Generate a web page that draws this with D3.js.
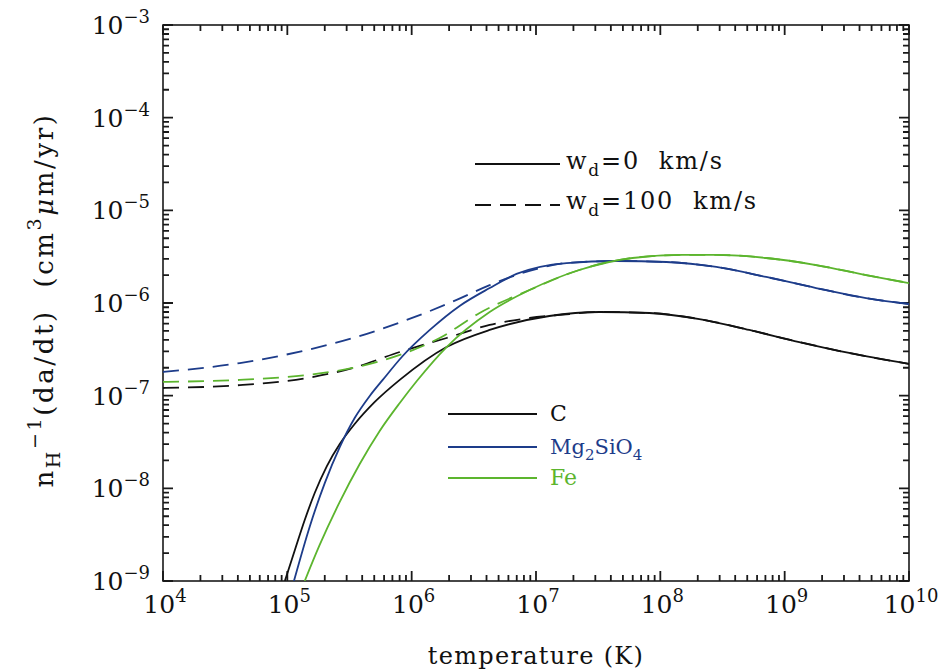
<!DOCTYPE html>
<html><head><meta charset="utf-8">
<script src="https://cdn.jsdelivr.net/npm/d3@7"></script>
<style>
body{margin:0;background:#fff}
svg{display:block}
text{font-family:"DejaVu Serif",serif;fill:#111;white-space:pre}
</style>
</head><body>
<svg id="chart" width="939" height="671"></svg>
<script>
// ---- data ----
const xTickExps = [4,5,6,7,8,9,10];
const yTickExps = [-9,-8,-7,-6,-5,-4,-3];

// C, w_d = 0 km/s
const cSolidT = [9.55e4,1.15e5,1.38e5,1.66e5,2.08e5,2.64e5,3.48e5,5.05e5,8.02e5,1.91e6,4.24e6,1.28e7,3.24e7,8.17e7,2.06e8,5.19e8,1.31e9,3.30e9,1e10];
const cSolidR = [1.0e-9,2.16e-9,4.55e-9,8.9e-9,1.74e-8,3.01e-8,4.94e-8,8.55e-8,1.48e-7,3.35e-7,5.12e-7,7.24e-7,8.0e-7,7.8e-7,6.71e-7,5.12e-7,3.79e-7,2.89e-7,2.2e-7];
// Mg2SiO4, w_d = 0 km/s
const mSolidT = [1.13e5,1.52e5,2.0e5,2.64e5,3.48e5,4.6e5,5.85e5,8.47e5,1.40e6,2.43e6,4.24e6,6.97e6,1.76e7,4.44e7,1.12e8,2.82e8,7.10e8,1.79e9,4.52e9,1e10];
const mSolidR = [1.0e-9,3.93e-9,1.14e-8,2.79e-8,5.74e-8,9.93e-8,1.48e-7,2.68e-7,5.12e-7,9.29e-7,1.45e-6,2.06e-6,2.70e-6,2.84e-6,2.77e-6,2.45e-6,1.91e-6,1.45e-6,1.13e-6,9.75e-7];
// Fe, w_d = 0 km/s
const fSolidT = [1.38e5,1.82e5,2.64e5,3.82e5,5.53e5,8.02e5,1.10e6,1.91e6,4.24e6,8.87e6,2.23e7,5.96e7,1.50e8,2.82e8,7.10e8,1.79e9,4.52e9,1e10];
const fSolidR = [1.0e-9,2.45e-9,7.13e-9,1.83e-8,4.16e-8,8.34e-8,1.44e-7,3.35e-7,8.0e-7,1.38e-6,2.27e-6,3.06e-6,3.30e-6,3.30e-6,3.06e-6,2.57e-6,2.0e-6,1.64e-6];
// C, w_d = 100 km/s
const cDashT = [1e4,4.15e4,1.44e5,3.36e5,8.02e5,1.91e6,4.24e6,8.87e6,1.55e7,3.24e7,8.17e7,2.06e8,5.19e8,1.31e9,3.30e9,1e10];
const cDashR = [1.21e-7,1.30e-7,1.55e-7,1.99e-7,2.96e-7,4.19e-7,5.79e-7,6.89e-7,7.43e-7,8.0e-7,7.8e-7,6.71e-7,5.12e-7,3.79e-7,2.89e-7,2.2e-7];
// Mg2SiO4, w_d = 100 km/s
const mDashT = [1e4,4.15e4,1.44e5,3.61e5,9.12e5,2.30e6,4.24e6,8.87e6,1.76e7,4.44e7,1.12e8,2.82e8,7.10e8,1.79e9,4.52e9,1e10];
const mDashR = [1.80e-7,2.25e-7,3.11e-7,4.30e-7,6.56e-7,1.08e-6,1.56e-6,2.22e-6,2.70e-6,2.84e-6,2.77e-6,2.45e-6,1.91e-6,1.45e-6,1.13e-6,9.75e-7];
// Fe, w_d = 100 km/s
const fDashT = [1e4,4.15e4,1.44e5,3.36e5,8.02e5,1.68e6,3.52e6,8.87e6,2.23e7,5.96e7,1.50e8,2.82e8,7.10e8,1.79e9,4.52e9,1e10];
const fDashR = [1.41e-7,1.48e-7,1.67e-7,1.99e-7,2.75e-7,4.19e-7,7.8e-7,1.38e-6,2.27e-6,3.06e-6,3.30e-6,3.30e-6,3.06e-6,2.57e-6,2.0e-6,1.64e-6];

const colC = "#111111", colM = "#1d3c8a", colF = "#5cb52e";

const series = [
  {T:cDashT, R:cDashR, color:colC, dash:"16,9"},
  {T:fDashT, R:fDashR, color:colF, dash:"16,9"},
  {T:mDashT, R:mDashR, color:colM, dash:"16,9"},
  {T:cSolidT, R:cSolidR, color:colC, dash:null},
  {T:mSolidT, R:mSolidR, color:colM, dash:null},
  {T:fSolidT, R:fSolidR, color:colF, dash:null}
];

// ---- layout ----
const PL = 163, PR = 909, PT = 25, PB = 581;
const svg = d3.select("#chart");
const x = d3.scaleLog().domain([1e4,1e10]).range([PL,PR]);
const y = d3.scaleLog().domain([1e-9,1e-3]).range([PB,PT]);

const majorX = xTickExps.map(e => Math.pow(10,e));
const majorY = yTickExps.map(e => Math.pow(10,e));
const minorX = [], minorY = [];
xTickExps.slice(0,-1).forEach(e => { for (let k=2;k<=9;k++) minorX.push(k*Math.pow(10,e)); });
yTickExps.slice(0,-1).forEach(e => { for (let k=2;k<=9;k++) minorY.push(k*Math.pow(10,e)); });

// inward ticks on all four sides
const xt = minorX.map(v => ({v, l:6})).concat(majorX.map(v => ({v, l:10})));
const yt = minorY.map(v => ({v, l:6})).concat(majorY.map(v => ({v, l:10})));
const p = d3.path();
xt.forEach(d => {
  const px = x(d.v);
  p.moveTo(px, PB); p.lineTo(px, PB - d.l);
  p.moveTo(px, PT); p.lineTo(px, PT + d.l);
});
yt.forEach(d => {
  const py = y(d.v);
  p.moveTo(PL, py); p.lineTo(PL + d.l, py);
  p.moveTo(PR, py); p.lineTo(PR - d.l, py);
});
svg.append("path").attr("d", p.toString()).attr("fill","none")
  .attr("stroke","#1a1a1a").attr("stroke-width",1.8);
svg.append("rect").attr("x",PL).attr("y",PT).attr("width",PR-PL).attr("height",PB-PT)
  .attr("fill","none").attr("stroke","#1a1a1a").attr("stroke-width",1.6);

// tick labels
xTickExps.forEach(e => {
  const t = svg.append("text").attr("x", x(Math.pow(10,e))+2).attr("y", 613)
    .attr("text-anchor","middle").style("font-size","25px");
  t.append("tspan").text("10");
  t.append("tspan").attr("dy",-11).style("font-size","18px").text(String(e));
});
yTickExps.forEach(e => {
  const t = svg.append("text").attr("x", 150).attr("y", y(Math.pow(10,e))+9)
    .attr("text-anchor","end").style("font-size","25px");
  t.append("tspan").text("10");
  t.append("tspan").attr("dy",-11).style("font-size","18px").text("\u2212"+Math.abs(e));
});

// axis titles
svg.append("text").attr("x",(PL+PR)/2).attr("y",664).attr("text-anchor","middle")
  .style("font-size","24px").style("letter-spacing","1.3px").text("temperature (K)");

const yl = svg.append("text").attr("transform","translate(53,300) rotate(-90)")
  .attr("text-anchor","middle").style("font-size","26px").style("letter-spacing","2.6px");
yl.append("tspan").text("n");
yl.append("tspan").attr("dy",7).style("font-size","19px").text("H");
yl.append("tspan").attr("dy",-19).style("font-size","19px").text("\u22121");
yl.append("tspan").attr("dy",12).text("(da/dt)  (cm");
yl.append("tspan").attr("dy",-12).style("font-size","19px").text("3");
yl.append("tspan").attr("dy",12).style("font-style","italic").text("\u03bc");
yl.append("tspan").text("m/yr)");

// curves
svg.append("clipPath").attr("id","clip").append("rect")
  .attr("x",PL).attr("y",PT).attr("width",PR-PL).attr("height",PB-PT);
const line = d3.line().x(d => x(d[0])).y(d => y(d[1])).curve(d3.curveMonotoneX);
const gc = svg.append("g").attr("clip-path","url(#clip)");
series.forEach(s => {
  gc.append("path").datum(s.T.map((t,i) => [t, s.R[i]]))
    .attr("d", line).attr("fill","none").attr("stroke", s.color)
    .attr("stroke-width",1.8).attr("stroke-dasharray", s.dash);
});

// legend: line styles
function legLine(x1,x2,yy,color,dash){
  svg.append("line").attr("x1",x1).attr("x2",x2).attr("y1",yy).attr("y2",yy)
    .attr("stroke",color).attr("stroke-width",1.8).attr("stroke-dasharray",dash);
}
legLine(475,560,164,colC,null);
legLine(475,560,205,colC,"16,9");
function wdText(yy, val){
  const t = svg.append("text").attr("x",566).attr("y",yy).style("font-size","24px").style("letter-spacing","1.8px");
  t.append("tspan").text("w");
  t.append("tspan").attr("dy",7).style("font-size","17px").text("d");
  t.append("tspan").attr("dy",-7).text("="+val+"  km/s");
}
wdText(169,"0");
wdText(209,"100");

// legend: materials
legLine(448,537,414,colC,null);
legLine(448,537,447,colM,null);
legLine(448,537,478,colF,null);
svg.append("text").attr("x",550).attr("y",421).style("font-size","22px").style("fill",colC).text("C");
const mg = svg.append("text").attr("x",550).attr("y",454).style("font-size","21px").style("fill",colM);
mg.append("tspan").text("Mg");
mg.append("tspan").attr("dy",6).style("font-size","15px").text("2");
mg.append("tspan").attr("dy",-6).text("SiO");
mg.append("tspan").attr("dy",6).style("font-size","15px").text("4");
svg.append("text").attr("x",550).attr("y",485).style("font-size","22px").style("fill",colF).text("Fe");
</script>
</body></html>
